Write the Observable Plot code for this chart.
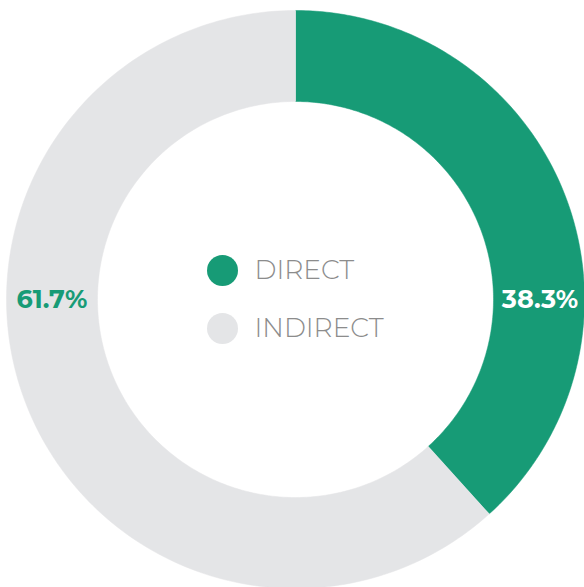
<!DOCTYPE html>
<html>
<head>
<meta charset="utf-8">
<script src="https://cdn.jsdelivr.net/npm/d3@7"></script>
<script src="https://cdn.jsdelivr.net/npm/@observablehq/plot@0.6"></script>
<style>
  html, body { margin: 0; padding: 0; background: #fff; }
  #chart { width: 584px; height: 587px; }
</style>
</head>
<body>
<div id="chart"></div>
<script>
const categories = ["DIRECT", "INDIRECT"];
const values = [38.3, 61.7];
const labels = ["38.3%", "61.7%"];
const colors = ["#179b76", "#e4e5e7"];

const W = 584, H = 587;
const cx = 295, cy = 299;
const outerR = 289, innerR = 198;

const pie = d3.pie().sort(null).value(d => d.value);
const arcs = pie(categories.map((c, i) => ({category: c, value: values[i]})));

const pts = [];
arcs.forEach(a => {
  const n = 200;
  for (let k = 0; k <= n; k++) {
    const t = a.startAngle + (a.endAngle - a.startAngle) * k / n;
    pts.push({category: a.data.category, x: outerR * Math.sin(t), y: outerR * Math.cos(t)});
  }
  for (let k = n; k >= 0; k--) {
    const t = a.startAngle + (a.endAngle - a.startAngle) * k / n;
    pts.push({category: a.data.category, x: innerR * Math.sin(t), y: innerR * Math.cos(t)});
  }
});

const midR = (outerR + innerR) / 2;
const labelData = [
  {category: "DIRECT", text: labels[0], x: midR + 1, y: 0, color: "#ffffff"},
  {category: "INDIRECT", text: labels[1], x: -midR + 0, y: 0, color: colors[0]}
];
const legendData = categories.map((c, i) => ({category: c, x: -73, y: 29 - 58 * i}));

const chart = Plot.plot({
  width: W,
  height: H,
  margin: 0,
  x: {domain: [-cx, W - cx], axis: null},
  y: {domain: [-(H - cy), cy], axis: null},
  color: {domain: categories, range: colors},
  marks: [
    Plot.line(pts, {x: "x", y: "y", z: "category", fill: "category", stroke: "category", strokeWidth: 0.5}),
    Plot.text(labelData, {x: "x", y: "y", text: "text", fill: d => d.color, fontSize: 25.5, fontWeight: 700, fontFamily: "Montserrat, 'Open Sans', sans-serif"}),
    Plot.dot(legendData, {x: "x", y: "y", r: 15.5, fill: "category"}),
    Plot.text(legendData, {x: d => d.x + 32, y: "y", text: "category", textAnchor: "start", fill: "#8c8c8c", fontSize: 26.5, fontWeight: 300, fontFamily: "Montserrat, 'Open Sans', sans-serif"})
  ]
});
document.getElementById("chart").appendChild(chart);
</script>
</body>
</html>
